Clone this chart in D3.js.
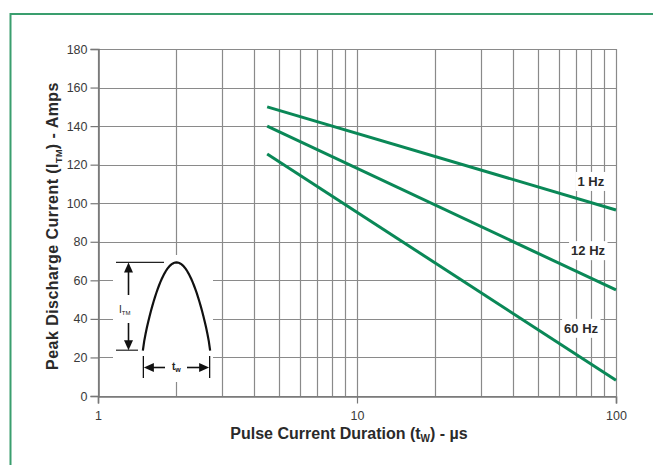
<!DOCTYPE html>
<html>
<head>
<meta charset="utf-8">
<script src="https://cdn.jsdelivr.net/npm/d3@7"></script>
<style>
  html, body { margin: 0; padding: 0; background: #fff; }
  svg { display: block; font-family: "Liberation Sans", Arial, Helvetica, sans-serif; }
</style>
</head>
<body>
<svg id="chart" width="653" height="465"></svg>
<script>
// ---- data ----
const xTickLabels = [1, 10, 100];
const xGrid = [1,2,3,4,5,6,7,8,9,10,20,30,40,50,60,70,80,90,100];
const yTicks = [0, 20, 40, 60, 80, 100, 120, 140, 160, 180];
const seriesNames = ["1 Hz", "12 Hz", "60 Hz"];
const durations = [4.5, 100];
const current1Hz = [150, 96.5];
const current12Hz = [140, 55];
const current60Hz = [125.5, 8.2];
const seriesValues = [current1Hz, current12Hz, current60Hz];

// ---- layout ----
const svg = d3.select("#chart");
const x = d3.scaleLog().domain([1, 100]).range([98, 616]);
const y = d3.scaleLinear().domain([0, 180]).range([396, 49]);
const gridColor = "#8a8a8a";
const lineColor = "#0a8857";
const textColor = "#2a2a2a";

// outer frame
svg.append("path")
  .attr("d", "M10.5,465 L10.5,14 L653,14")
  .attr("fill", "none").attr("stroke", "#3a9e6e").attr("stroke-width", 2);

// grid
const grid = svg.append("g");
grid.selectAll("line.v").data(xGrid).join("line")
  .attr("x1", d => Math.round(x(d)) + 0.5).attr("x2", d => Math.round(x(d)) + 0.5)
  .attr("y1", y(180)).attr("y2", y(0))
  .attr("stroke", gridColor).attr("stroke-width", 1.2);
grid.selectAll("line.h").data(yTicks).join("line")
  .attr("y1", d => Math.round(y(d)) + 0.5).attr("y2", d => Math.round(y(d)) + 0.5)
  .attr("x1", x(1)).attr("x2", x(100))
  .attr("stroke", gridColor).attr("stroke-width", 1.2);

// axes
const xAxis = d3.axisBottom(x).tickValues(xTickLabels).tickFormat(d3.format("d"))
  .tickSize(7).tickPadding(8);
const yAxis = d3.axisLeft(y).tickValues(yTicks).tickSize(8).tickPadding(3);
const gx = svg.append("g").attr("transform", `translate(0,${Math.round(y(0)) + 0.5})`).call(xAxis);
const gy = svg.append("g").attr("transform", `translate(${Math.round(x(1)) + 0.5},0)`).call(yAxis);
[gx, gy].forEach(g => {
  g.select(".domain").attr("stroke", "#777").attr("stroke-width", 1.6);
  g.selectAll(".tick line").attr("stroke", "#777").attr("stroke-width", 1.2);
  g.selectAll(".tick text").attr("fill", "#3a3a3a").style("font-size", "12.5px")
    .style("font-family", "Liberation Sans, Arial, sans-serif");
});

// inset pulse illustration (white backdrop)
const ins = svg.append("g");
ins.append("rect").attr("x", 113).attr("y", 255).attr("width", 100).attr("height", 127).attr("fill", "#fff");
const peakX = x(2), peakY = y(69.3), baseY = y(23.5);
const leftX = x(1.49), rightX = x(2.71);
const pulse = d3.range(0, 1.0001, 0.02).map(t => [leftX + (rightX - leftX) * t, baseY - (baseY - peakY) * Math.pow(Math.sin(Math.PI * t), 0.8)]);
ins.append("path").attr("d", d3.line()(pulse)).attr("fill", "none").attr("stroke", "#111").attr("stroke-width", 2.2);
// I_TM dimension
const ax = 128.5;
ins.append("line").attr("x1", 116).attr("x2", 164).attr("y1", peakY).attr("y2", peakY).attr("stroke", "#222").attr("stroke-width", 1.2);
ins.append("line").attr("x1", 116).attr("x2", 138).attr("y1", baseY - 0.5).attr("y2", baseY - 0.5).attr("stroke", "#222").attr("stroke-width", 1.2);
ins.append("line").attr("x1", ax).attr("x2", ax).attr("y1", peakY + 8).attr("y2", 295).attr("stroke", "#111").attr("stroke-width", 1.6);
ins.append("line").attr("x1", ax).attr("x2", ax).attr("y1", 323).attr("y2", baseY - 8).attr("stroke", "#111").attr("stroke-width", 1.6);
ins.append("path").attr("d", `M${ax},${peakY} L${ax - 4.5},${peakY + 10} L${ax + 4.5},${peakY + 10} Z`).attr("fill", "#111");
ins.append("path").attr("d", `M${ax},${baseY - 0.5} L${ax - 4.5},${baseY - 10.5} L${ax + 4.5},${baseY - 10.5} Z`).attr("fill", "#111");
const itm = ins.append("text").attr("x", 119).attr("y", 313).attr("fill", "#222").style("font-size", "10px");
itm.append("tspan").text("I");
itm.append("tspan").attr("dy", 2).style("font-size", "6px").text("TM");
// t_w dimension
const ty = 367.5;
ins.append("line").attr("x1", leftX + 0.5).attr("x2", leftX + 0.5).attr("y1", 356).attr("y2", 378).attr("stroke", "#111").attr("stroke-width", 1.3);
ins.append("line").attr("x1", rightX - 0.5).attr("x2", rightX - 0.5).attr("y1", 356).attr("y2", 378).attr("stroke", "#111").attr("stroke-width", 1.3);
ins.append("line").attr("x1", leftX + 8).attr("x2", 165).attr("y1", ty).attr("y2", ty).attr("stroke", "#111").attr("stroke-width", 1.6);
ins.append("line").attr("x1", 187).attr("x2", rightX - 8).attr("y1", ty).attr("y2", ty).attr("stroke", "#111").attr("stroke-width", 1.6);
ins.append("path").attr("d", `M${leftX + 1},${ty} L${leftX + 11},${ty - 4.5} L${leftX + 11},${ty + 4.5} Z`).attr("fill", "#111");
ins.append("path").attr("d", `M${rightX - 1},${ty} L${rightX - 11},${ty - 4.5} L${rightX - 11},${ty + 4.5} Z`).attr("fill", "#111");
const tw = ins.append("text").attr("x", 172).attr("y", 370).attr("fill", "#222").style("font-size", "10px").style("font-weight", "bold");
tw.append("tspan").text("t");
tw.append("tspan").attr("dy", 2).style("font-size", "7px").text("w");

// series lines
const line = d3.line().x(d => x(d[0])).y(d => y(d[1]));
svg.append("g").selectAll("path").data(seriesValues).join("path")
  .attr("d", vals => line(durations.map((t, i) => [t, vals[i]])))
  .attr("fill", "none").attr("stroke", lineColor).attr("stroke-width", 3);

// series labels with white backdrops
const labelAnchors = [[80, 111.3], [78, 75.4], [73.3, 35.1]];
const lg = svg.append("g");
seriesNames.forEach((name, i) => {
  const cx = x(labelAnchors[i][0]), cy = y(labelAnchors[i][1]);
  const t = lg.append("text").attr("x", cx).attr("y", cy).attr("dy", "0.35em")
    .attr("text-anchor", "middle").attr("fill", textColor)
    .style("font-size", "13px").style("font-weight", "bold").text(name);
  const bb = t.node().getBBox();
  lg.insert("rect", "text").attr("x", bb.x - 2).attr("y", cy - 9.5).attr("width", bb.width + 4).attr("height", 19).attr("fill", "#fff");
});

// axis titles
const xt = svg.append("text").attr("x", 349).attr("y", 438.5).attr("text-anchor", "middle")
  .attr("fill", textColor).style("font-size", "16px").style("font-weight", "bold");
xt.append("tspan").text("Pulse Current Duration (t");
xt.append("tspan").attr("dy", 3.5).style("font-size", "10px").text("W");
xt.append("tspan").attr("dy", -3.5).text(") - µs");

const yt = svg.append("text").attr("transform", "translate(58,226) rotate(-90)").attr("text-anchor", "middle")
  .attr("fill", textColor).style("font-size", "16px").style("font-weight", "bold")
  .style("letter-spacing", "0.45px");
yt.append("tspan").text("Peak Discharge Current (I");
yt.append("tspan").attr("dy", 3.5).style("font-size", "9px").text("TM");
yt.append("tspan").attr("dy", -3.5).text(") - Amps");
</script>
</body>
</html>
